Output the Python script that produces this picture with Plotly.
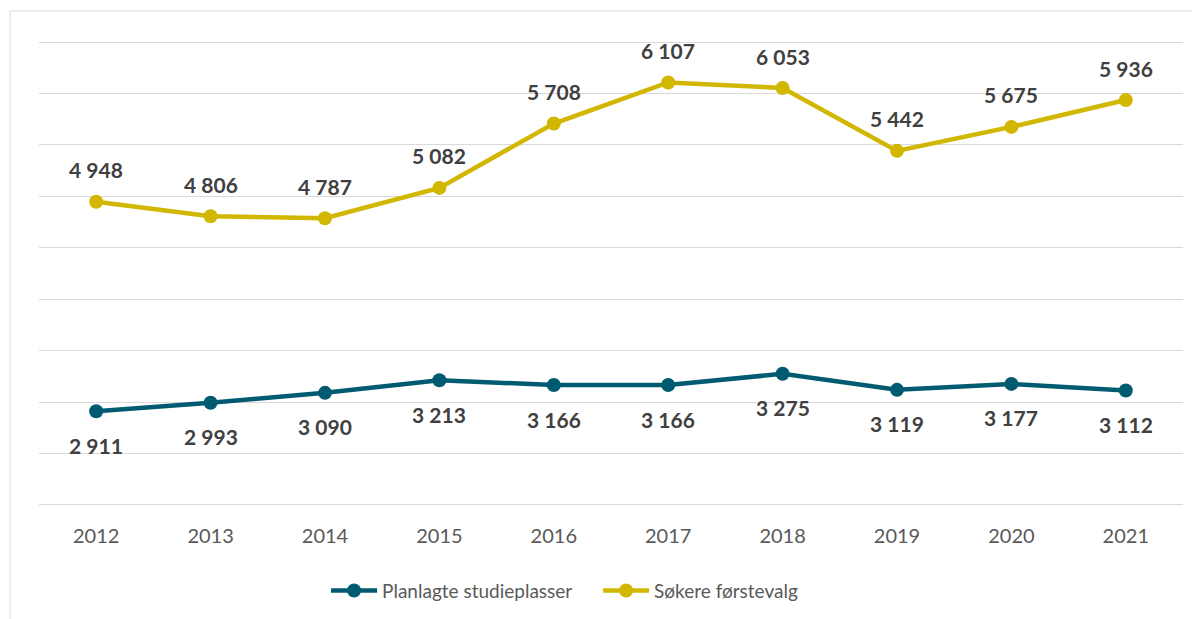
import plotly.graph_objects as go

years = ["2012", "2013", "2014", "2015", "2016", "2017", "2018", "2019", "2020", "2021"]
planlagte = [2911, 2993, 3090, 3213, 3166, 3166, 3275, 3119, 3177, 3112]
sokere = [4948, 4806, 4787, 5082, 5708, 6107, 6053, 5442, 5675, 5936]

TEAL = "#005B71"
YELLOW = "#D1B700"
FONT = "Lato"


def fmt(v):
    return f"{v:,}".replace(",", " ")


fig = go.Figure()
fig.add_trace(go.Scatter(
    x=years, y=planlagte, name="Planlagte studieplasser", mode="lines+markers",
    line=dict(color=TEAL, width=4.5), marker=dict(color=TEAL, size=14),
))
fig.add_trace(go.Scatter(
    x=years, y=sokere, name="Søkere førstevalg", mode="lines+markers",
    line=dict(color=YELLOW, width=4.5), marker=dict(color=YELLOW, size=14),
))

annotations = []
for i, v in enumerate(planlagte):
    annotations.append(dict(x=i, y=v, xref="x", yref="y", text=fmt(v), showarrow=False, yshift=-34,
                            font=dict(family=FONT, size=21, color="#404040", weight="bold")))
for i, v in enumerate(sokere):
    annotations.append(dict(x=i, y=v, xref="x", yref="y", text=fmt(v), showarrow=False, yshift=32,
                            font=dict(family=FONT, size=21, color="#404040", weight="bold")))

# page body adds 8px offset; compensate in margins
fig.update_layout(
    width=1192, height=640,
    margin=dict(l=31, r=17, t=33, b=142),
    paper_bgcolor="white", plot_bgcolor="white",
    font=dict(family=FONT, color="#595959"),
    showlegend=True,
    legend=dict(orientation="h", x=0.4887, xanchor="center", y=-0.182, yanchor="middle",
                font=dict(family=FONT, size=19, color="#595959"),
                itemwidth=46, entrywidth=211, traceorder="normal"),
    annotations=annotations,
    shapes=[dict(type="rect", xref="paper", yref="paper", x0=-0.0253, x1=1.2, y0=-0.5, y1=1.0645,
                 line=dict(color="#D9D9D9", width=1), layer="below")],
)
fig.update_xaxes(type="category", range=[-0.5, 9.5], showgrid=False, showline=False,
                 ticks="outside", ticklen=12, tickcolor="rgba(0,0,0,0)",
                 tickfont=dict(family=FONT, size=20, color="#595959"))
fig.update_yaxes(range=[1990, 6510], dtick=500, tick0=2000, showticklabels=False, showgrid=True,
                 gridcolor="#D9D9D9", gridwidth=1.3, zeroline=False, showline=False)

fig.write_html("out.html")
